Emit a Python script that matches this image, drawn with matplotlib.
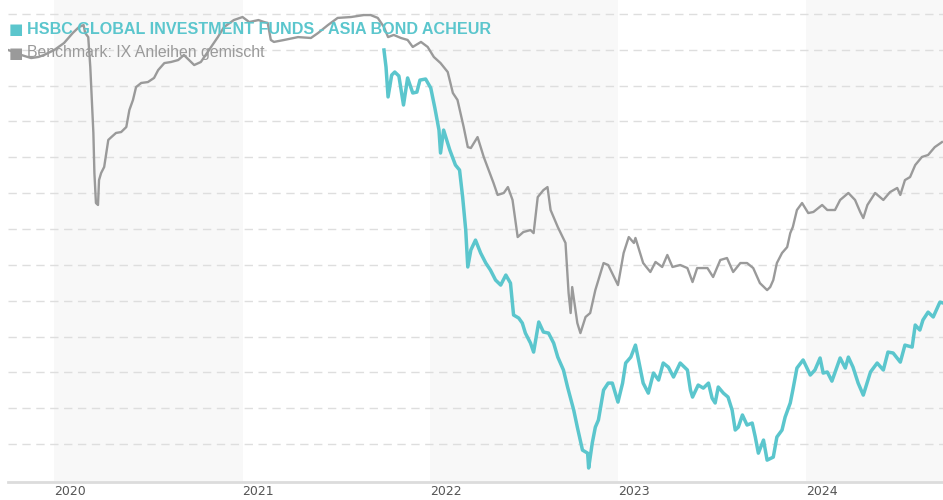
import matplotlib
matplotlib.use("Agg")
import matplotlib.pyplot as plt
import pandas as pd

fund_name = "HSBC GLOBAL INVESTMENT FUNDS - ASIA BOND ACHEUR"
bench_name = "Benchmark: IX Anleihen gemischt"
year_labels = ["2020", "2021", "2022", "2023", "2024"]

bench_dates = [
    "2019-10-03", "2019-10-15", "2019-10-29", "2019-11-17", "2019-12-01", "2019-12-12",
    "2020-01-01", "2020-01-20", "2020-02-06", "2020-02-18", "2020-02-27", "2020-03-01",
    "2020-03-07", "2020-03-11", "2020-03-17", "2020-03-19", "2020-03-22", "2020-03-26",
    "2020-03-28", "2020-04-01", "2020-04-07", "2020-04-15", "2020-04-21", "2020-04-30",
    "2020-05-10", "2020-05-20", "2020-05-26", "2020-06-02", "2020-06-08", "2020-06-18",
    "2020-07-01", "2020-07-13", "2020-07-21", "2020-08-02", "2020-08-15", "2020-08-29",
    "2020-09-09", "2020-09-23", "2020-09-29", "2020-10-12", "2020-11-01", "2020-11-14",
    "2020-11-26", "2020-12-15", "2021-01-01", "2021-01-14", "2021-02-01", "2021-02-12",
    "2021-02-19", "2021-02-25", "2021-03-03", "2021-03-23", "2021-04-19", "2021-05-14",
    "2021-05-28", "2021-06-16", "2021-07-05", "2021-07-31", "2021-08-25", "2021-09-07",
    "2021-09-21", "2021-10-03", "2021-10-11", "2021-10-22", "2021-11-05", "2021-11-18",
    "2021-11-28", "2021-12-14", "2021-12-27", "2022-01-08", "2022-01-21", "2022-02-04",
    "2022-02-14", "2022-02-23", "2022-03-07", "2022-03-15", "2022-03-21", "2022-04-03",
    "2022-04-15", "2022-05-04", "2022-05-12", "2022-05-24", "2022-06-01", "2022-06-10",
    "2022-06-20", "2022-07-01", "2022-07-15", "2022-07-21", "2022-07-29", "2022-08-09",
    "2022-08-17", "2022-08-23", "2022-09-06", "2022-09-21", "2022-09-27", "2022-10-01",
    "2022-10-04", "2022-10-14", "2022-10-20", "2022-10-30", "2022-11-08", "2022-11-18",
    "2022-12-04", "2022-12-13", "2023-01-01", "2023-01-12", "2023-01-22", "2023-02-01",
    "2023-02-04", "2023-02-19", "2023-03-05", "2023-03-15", "2023-03-28", "2023-04-07",
    "2023-04-17", "2023-05-02", "2023-05-16", "2023-05-26", "2023-06-04", "2023-06-24",
    "2023-07-05", "2023-07-19", "2023-08-01", "2023-08-13", "2023-08-27", "2023-09-09",
    "2023-09-21", "2023-10-04", "2023-10-18", "2023-10-24", "2023-10-30", "2023-11-06",
    "2023-11-16", "2023-11-26", "2023-12-02", "2023-12-07", "2023-12-15", "2023-12-25",
    "2024-01-06", "2024-01-16", "2024-02-02", "2024-02-12", "2024-02-27", "2024-03-08",
    "2024-03-24", "2024-04-06", "2024-04-16", "2024-04-22", "2024-04-30", "2024-05-15",
    "2024-05-31", "2024-06-13", "2024-06-27", "2024-07-03", "2024-07-12", "2024-07-22",
    "2024-08-01", "2024-08-14", "2024-08-26", "2024-09-08", "2024-09-22",
]
bench_values = [
    97.99, 97.88, 97.71, 97.54, 97.60, 97.71,
    97.99, 98.38, 98.94, 99.27, 99.38, 98.94,
    98.71, 97.04, 93.36, 91.12, 89.45, 89.34,
    90.73, 91.12, 91.46, 92.97, 93.13, 93.36,
    93.41, 93.69, 94.64, 95.20, 95.92, 96.15,
    96.20, 96.43, 96.87, 97.26, 97.32, 97.43,
    97.71, 97.32, 97.15, 97.32, 98.16, 98.71,
    99.27, 99.66, 99.83, 99.55, 99.66, 99.55,
    99.50, 98.55, 98.44, 98.55, 98.71, 98.66,
    98.94, 99.38, 99.78, 99.83, 99.94, 99.94,
    99.78, 99.27, 98.71, 98.83, 98.66, 98.55,
    98.16, 98.44, 98.16, 97.60, 97.26, 96.76,
    95.59, 95.20, 93.69, 92.57, 92.52, 93.13,
    92.02, 90.57, 89.90, 90.01, 90.34, 89.62,
    87.55, 87.83, 87.94, 87.77, 89.78, 90.17,
    90.34, 89.06, 88.11, 87.22, 84.43, 83.31,
    84.76, 82.75, 82.19, 83.09, 83.31, 84.59,
    86.10, 85.99, 84.87, 86.66, 87.55, 87.22,
    87.50, 86.10, 85.60, 86.16, 85.88, 86.55,
    85.88, 85.99, 85.82, 85.04, 85.82, 85.82,
    85.32, 86.27, 86.38, 85.60, 86.10, 86.10,
    85.82, 84.98, 84.59, 84.76, 85.15, 86.10,
    86.66, 86.99, 87.77, 88.11, 89.06, 89.45,
    88.89, 88.95, 89.34, 89.06, 89.06, 89.62,
    90.01, 89.62, 88.95, 88.61, 89.34, 90.01,
    89.62, 90.06, 90.29, 89.90, 90.73, 90.90,
    91.57, 92.02, 92.13, 92.57, 92.85,
]

fund_dates = [
    "2021-10-03", "2021-10-07", "2021-10-11", "2021-10-18", "2021-10-24", "2021-11-01",
    "2021-11-10", "2021-11-18", "2021-11-28", "2021-12-06", "2021-12-12", "2021-12-23",
    "2022-01-02", "2022-01-10", "2022-01-18", "2022-01-21", "2022-01-27", "2022-02-08",
    "2022-02-19", "2022-02-27", "2022-03-05", "2022-03-11", "2022-03-15", "2022-03-21",
    "2022-03-30", "2022-04-09", "2022-04-19", "2022-04-28", "2022-05-08", "2022-05-18",
    "2022-05-28", "2022-06-06", "2022-06-12", "2022-06-22", "2022-06-29", "2022-07-05",
    "2022-07-15", "2022-07-21", "2022-07-31", "2022-08-09", "2022-08-19", "2022-08-29",
    "2022-09-06", "2022-09-17", "2022-09-25", "2022-10-07", "2022-10-14", "2022-10-24",
    "2022-11-03", "2022-11-05", "2022-11-12", "2022-11-18", "2022-11-24", "2022-12-04",
    "2022-12-13", "2022-12-21", "2023-01-01", "2023-01-10", "2023-01-16", "2023-01-26",
    "2023-02-04", "2023-02-10", "2023-02-19", "2023-03-01", "2023-03-11", "2023-03-21",
    "2023-03-30", "2023-04-09", "2023-04-19", "2023-05-02", "2023-05-16", "2023-05-22",
    "2023-05-26", "2023-06-06", "2023-06-16", "2023-06-26", "2023-07-03", "2023-07-09",
    "2023-07-15", "2023-07-25", "2023-08-03", "2023-08-11", "2023-08-17", "2023-08-23",
    "2023-08-31", "2023-09-09", "2023-09-19", "2023-09-25", "2023-10-01", "2023-10-11",
    "2023-10-18", "2023-10-30", "2023-11-06", "2023-11-16", "2023-11-22", "2023-12-02",
    "2023-12-07", "2023-12-15", "2023-12-27", "2024-01-10", "2024-01-19", "2024-01-29",
    "2024-02-04", "2024-02-12", "2024-02-21", "2024-03-08", "2024-03-18", "2024-03-24",
    "2024-04-02", "2024-04-12", "2024-04-22", "2024-05-06", "2024-05-19", "2024-05-31",
    "2024-06-09", "2024-06-19", "2024-07-03", "2024-07-12", "2024-07-26", "2024-08-01",
    "2024-08-10", "2024-08-16", "2024-08-26", "2024-09-05", "2024-09-18", "2024-09-24",
]
fund_values = [
    97.99, 97.04, 95.37, 96.59, 96.76, 96.54,
    94.92, 96.43, 95.59, 95.64, 96.31, 96.37,
    95.87, 94.75, 93.52, 92.24, 93.52, 92.41,
    91.57, 91.29, 89.78, 87.94, 85.88, 86.83,
    87.38, 86.66, 86.10, 85.71, 85.15, 84.87,
    85.43, 84.98, 83.20, 83.03, 82.75, 82.19,
    81.63, 81.13, 82.81, 82.25, 82.19, 81.63,
    80.85, 80.13, 79.18, 77.89, 76.94, 75.66,
    75.49, 74.66, 76.05, 76.94, 77.34, 79.01,
    79.40, 79.40, 78.34, 79.40, 80.52, 80.85,
    81.52, 80.69, 79.40, 78.84, 79.96, 79.57,
    80.52, 80.29, 79.74, 80.52, 80.13, 79.01,
    78.62, 79.29, 79.12, 79.40, 78.56, 78.29,
    79.18, 78.84, 78.62, 77.89, 76.78, 76.94,
    77.62, 77.06, 77.17, 76.39, 75.49, 76.22,
    75.10, 75.27, 76.39, 76.78, 77.50, 78.29,
    79.01, 80.24, 80.69, 79.85, 80.13, 80.80,
    79.96, 80.02, 79.51, 80.80, 80.24, 80.85,
    80.29, 79.40, 78.73, 80.02, 80.52, 80.13,
    81.13, 81.08, 80.57, 81.52, 81.41, 82.64,
    82.36, 82.92, 83.36, 83.09, 83.92, 83.87,
]

TEAL = "#5bc6cd"
GRAY = "#9a9a9a"

fig = plt.figure(figsize=(9.43, 5.0), dpi=100)
ax = fig.add_axes([8 / 943, 18 / 500, 935 / 943, 482 / 500])

bd = pd.to_datetime(bench_dates)
fd = pd.to_datetime(fund_dates)

x0 = pd.Timestamp("2019-10-03")
x1 = pd.Timestamp("2024-09-24")
ax.set_xlim(x0, x1)
ax.set_ylim(73.88, 100.78)

# alternating year bands
for i, yl in enumerate(year_labels):
    if i % 2 == 0:
        s = pd.Timestamp(f"{yl}-01-01")
        e = pd.Timestamp(f"{int(yl) + 1}-01-01")
        ax.axvspan(s, min(e, x1 + pd.Timedelta(days=5)), color="#f8f8f8", lw=0, zorder=0)

# dashed horizontal gridlines
for gv in range(76, 101, 2):
    ax.axhline(gv, color="#dedede", lw=1.0, ls=(0, (6, 4)), zorder=1)

ax.plot(bd, bench_values, color=GRAY, lw=1.7, zorder=3, solid_joinstyle="round")
ax.plot(fd, fund_values, color=TEAL, lw=2.5, zorder=4, solid_joinstyle="round")

for sp in ["top", "right", "left"]:
    ax.spines[sp].set_visible(False)
ax.spines["bottom"].set_color("#dcdcdc")
ax.spines["bottom"].set_linewidth(2)
ax.set_yticks([])

ticks = [pd.Timestamp(f"{y}-01-01") for y in year_labels]
ax.set_xticks(ticks)
ax.set_xticklabels(year_labels, fontsize=9, color="#555555", family="DejaVu Sans")
for lab in ax.get_xticklabels():
    lab.set_horizontalalignment("left")
ax.tick_params(axis="x", length=0, pad=2)

# legend squares and labels
fig.text(9 / 943, 1 - 29 / 500, "■", color=TEAL, fontsize=11,
         family="DejaVu Sans", va="center", ha="left")
fig.text(27 / 943, 1 - 29 / 500, fund_name, color=TEAL, fontsize=11.6,
         fontweight="bold", family="Liberation Sans", va="center", ha="left")
fig.text(9 / 943, 1 - 53 / 500, "■", color=GRAY, fontsize=11,
         family="DejaVu Sans", va="center", ha="left")
fig.text(27 / 943, 1 - 53 / 500, bench_name, color=GRAY, fontsize=11.4,
         family="Liberation Sans", va="center", ha="left")

fig.savefig("out.png", dpi=100)
